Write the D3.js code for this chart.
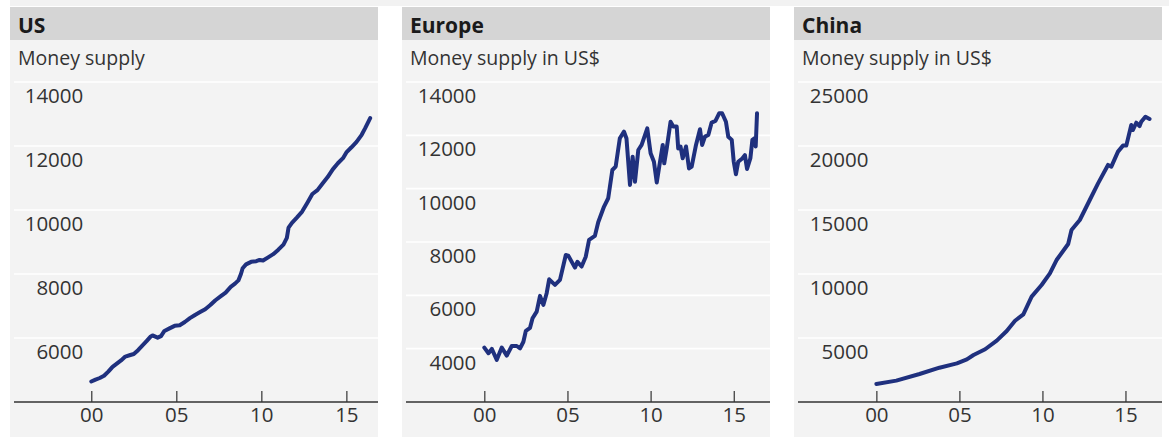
<!DOCTYPE html>
<html>
<head>
<meta charset="utf-8">
<script src="https://cdn.jsdelivr.net/npm/d3@7"></script>
<style>
  html, body { margin: 0; padding: 0; background: #ffffff; }
  svg { display: block; font-family: "Open Sans", "Noto Sans", sans-serif; }
</style>
</head>
<body>
<svg id="chart" width="1169" height="437"></svg>
<script>
// ---- Data (decimal year, value) ----
const panelTitles = ["US", "Europe", "China"];
const panelSubtitles = ["Money supply", "Money supply in US$", "Money supply in US$"];
const xTickValues = [2000, 2005, 2010, 2015];
const xTickLabels = ["00", "05", "10", "15"];

const usYears = [2000.0, 2000.25, 2000.5, 2000.75, 2001.0, 2001.25, 2001.5, 2001.75, 2002.0, 2002.25, 2002.5, 2002.75,
  2003.0, 2003.25, 2003.5, 2003.6, 2003.9, 2004.1, 2004.3, 2004.6, 2004.9, 2005.2, 2005.5, 2005.8, 2006.1, 2006.4,
  2006.7, 2007.0, 2007.3, 2007.6, 2007.9, 2008.2, 2008.45, 2008.65, 2008.8, 2008.9, 2009.1, 2009.4, 2009.7, 2009.9,
  2010.1, 2010.4, 2010.7, 2011.0, 2011.3, 2011.5, 2011.6, 2011.8, 2012.1, 2012.4, 2012.7, 2013.0, 2013.3, 2013.6,
  2013.9, 2014.2, 2014.5, 2014.8, 2015.0, 2015.3, 2015.6, 2015.9, 2016.1, 2016.4];
const usValues = [4640, 4700, 4750, 4820, 4950, 5100, 5200, 5300, 5420, 5460, 5500, 5620,
  5760, 5900, 6050, 6080, 6010, 6060, 6220, 6300, 6380, 6400, 6500, 6620, 6720, 6810,
  6900, 7030, 7180, 7300, 7420, 7600, 7700, 7800, 8000, 8180, 8300, 8380, 8400, 8440,
  8420, 8520, 8620, 8760, 8920, 9130, 9450, 9600, 9770, 9950, 10220, 10500, 10620, 10830,
  11030, 11270, 11460, 11620, 11800, 11960, 12130, 12350, 12550, 12870];

const euYears = [2000.0, 2000.25, 2000.45, 2000.75, 2001.05, 2001.35, 2001.65, 2001.95, 2002.15, 2002.35, 2002.5,
  2002.75, 2002.9, 2003.15, 2003.35, 2003.55, 2003.75, 2003.9, 2004.25, 2004.55, 2004.9, 2005.05, 2005.45, 2005.6,
  2005.85, 2006.1, 2006.3, 2006.65, 2006.85, 2007.2, 2007.45, 2007.7, 2007.9, 2008.15, 2008.4, 2008.55, 2008.76,
  2008.92, 2009.06, 2009.26, 2009.46, 2009.8, 2010.0, 2010.2, 2010.37, 2010.52, 2010.73, 2010.82, 2010.97, 2011.2,
  2011.36, 2011.57, 2011.66, 2011.8, 2011.93, 2012.13, 2012.31, 2012.47, 2012.73, 2012.97, 2013.1, 2013.27, 2013.47,
  2013.67, 2013.9, 2014.13, 2014.3, 2014.53, 2014.67, 2014.88, 2015.0, 2015.13, 2015.27, 2015.53, 2015.67, 2015.8,
  2016.0, 2016.12, 2016.26, 2016.32, 2016.4];
const euValues = [4040, 3830, 3990, 3580, 4040, 3740, 4100, 4100, 4010, 4260, 4670,
  4780, 5140, 5390, 5980, 5640, 6080, 6600, 6390, 6580, 7510, 7490, 7040, 7260,
  7080, 7450, 8080, 8230, 8740, 9330, 9640, 10700, 10830, 11890, 12140, 11880, 10140,
  11200, 10260, 11450, 11640, 12260, 11330, 11010, 10230, 10830, 11640, 10950, 11510, 12510,
  12330, 12330, 11510, 11580, 11140, 11580, 10760, 10830, 11640, 12230, 11640, 11950, 12010,
  12480, 12540, 12830, 12830, 12510, 11950, 11830, 11010, 10540, 11010, 11140, 11260, 10740,
  11140, 11830, 11890, 11580, 12830];

const cnYears = [2000.0, 2001.2, 2002.6, 2003.8, 2004.85, 2005.45, 2005.85, 2006.55, 2007.25, 2007.85, 2008.35,
  2008.85, 2009.35, 2009.95, 2010.45, 2010.85, 2011.55, 2011.75, 2012.25, 2012.85, 2013.35, 2013.95, 2014.15,
  2014.55, 2014.85, 2015.05, 2015.35, 2015.45, 2015.65, 2015.85, 2015.95, 2016.2, 2016.45];
const cnValues = [1410, 1670, 2190, 2680, 3020, 3330, 3670, 4120, 4790, 5550, 6350,
  6850, 8230, 9140, 10050, 11090, 12340, 13440, 14220, 15780, 17080, 18520, 18390,
  19560, 20030, 20030, 21640, 21250, 21820, 21560, 21900, 22290, 22110];

const usYTicks = [6000, 8000, 10000, 12000, 14000];
const euYTicks = [4000, 6000, 8000, 10000, 12000, 14000];
const cnYTicks = [5000, 10000, 15000, 20000, 25000];

// ---- Layout ----
const W = 1169, H = 437;
const panelW = 368, panelStep = 392, panelX0 = 10;
const headerTop = 7, headerBottom = 40;
const plotTop = 82, plotBottom = 402;
const lineColor = "#1f307e";

const panels = [
  { title: panelTitles[0], subtitle: panelSubtitles[0], years: usYears, values: usValues,
    yDomain: [4000, 14000], yTicks: usYTicks, xDomain: [1995.22, 2016.86] },
  { title: panelTitles[1], subtitle: panelSubtitles[1], years: euYears, values: euValues,
    yDomain: [2000, 14000], yTicks: euYTicks, xDomain: [1995.05, 2017.18] },
  { title: panelTitles[2], subtitle: panelSubtitles[2], years: cnYears, values: cnValues,
    yDomain: [0, 25000], yTicks: cnYTicks, xDomain: [1995.04, 2017.2] }
];

const svg = d3.select("#chart");

// thin strip along the top edge
svg.append("rect").attr("x", panelX0).attr("y", 0).attr("width", W - panelX0).attr("height", 6)
  .attr("fill", "#f2f2f2");

panels.forEach((p, i) => {
  const left = panelX0 + i * panelStep;
  const right = left + panelW;
  const g = svg.append("g");

  // panel background
  g.append("rect").attr("x", left).attr("y", headerBottom).attr("width", panelW).attr("height", H - headerBottom)
    .attr("fill", "#f3f3f3");
  // header band
  g.append("rect").attr("x", left).attr("y", headerTop).attr("width", panelW).attr("height", headerBottom - headerTop)
    .attr("fill", "#d5d5d5");
  g.append("text").attr("x", left + 8).attr("y", 33)
    .attr("font-size", 21).attr("font-weight", 700).attr("fill", "#1a1a1a").text(p.title);
  g.append("text").attr("x", left + 8).attr("y", 65)
    .attr("font-size", 19.5).attr("fill", "#333333").text(p.subtitle);

  const x = d3.scaleLinear().domain(p.xDomain).range([left, right]);
  const y = d3.scaleLinear().domain(p.yDomain).range([plotBottom, plotTop]);

  // horizontal gridlines
  g.append("g").selectAll("line").data(p.yTicks).join("line")
    .attr("x1", left + 4).attr("x2", right)
    .attr("y1", d => y(d)).attr("y2", d => y(d))
    .attr("stroke", "#ffffff").attr("stroke-width", 1.6);

  // y labels, sitting just under their gridline
  g.append("g").selectAll("text").data(p.yTicks).join("text")
    .attr("x", x(2000) - 8).attr("y", d => y(d) + 21)
    .attr("text-anchor", "end").attr("font-size", 20.5).attr("fill", "#333333")
    .text(d => d3.format("d")(d));

  // x axis
  const xAxis = d3.axisBottom(x).tickValues(xTickValues)
    .tickFormat((d, k) => xTickLabels[k]).tickSize(0).tickPadding(0);
  const ax = g.append("g").attr("transform", `translate(0,${plotBottom})`).call(xAxis);
  ax.select(".domain").remove();
  ax.selectAll(".tick text").attr("y", 20).attr("dy", null)
    .attr("font-size", 20.5).attr("font-family", "Open Sans, Noto Sans, sans-serif").attr("fill", "#333333");
  ax.selectAll(".tick").append("line").attr("y1", -11).attr("y2", 0)
    .attr("stroke", "#333333").attr("stroke-width", 1.2);
  g.append("line").attr("x1", left + 4).attr("x2", right).attr("y1", plotBottom).attr("y2", plotBottom)
    .attr("stroke", "#333333").attr("stroke-width", 1.5);

  // series line
  const pts = p.years.map((yr, k) => [yr, p.values[k]]);
  g.append("path").datum(pts)
    .attr("fill", "none").attr("stroke", lineColor).attr("stroke-width", 4)
    .attr("stroke-linejoin", "round").attr("stroke-linecap", "round")
    .attr("d", d3.line().x(d => x(d[0])).y(d => y(d[1])));
});
</script>
</body>
</html>
